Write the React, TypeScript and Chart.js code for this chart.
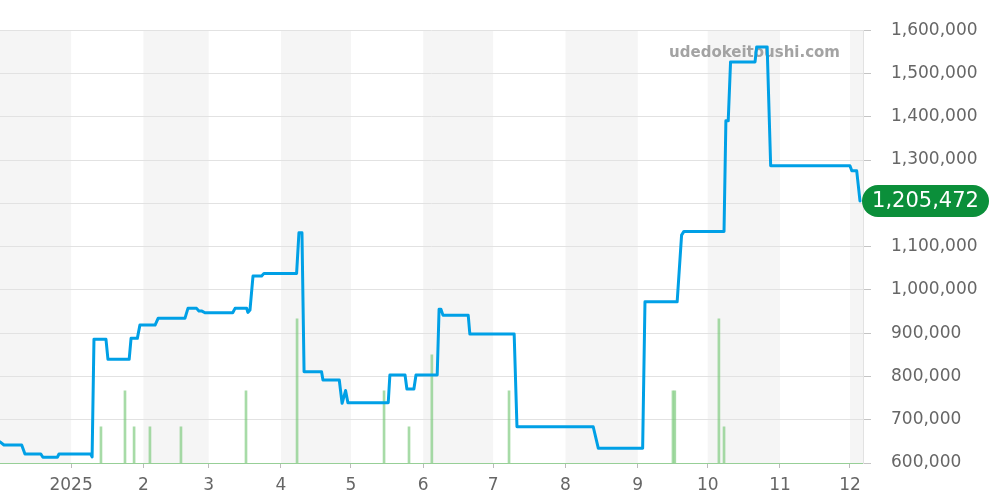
import React, { useEffect, useRef } from "react";
import { Chart, registerables } from "chart.js";

Chart.register(...registerables);

// Day offsets counted from 2025-01-01
const monthStarts = [-31, 0, 31, 59, 90, 120, 151, 181, 212, 243, 273, 304, 334];
const monthLabels = ["12", "2025", "2", "3", "4", "5", "6", "7", "8", "9", "10", "11", "12"];
const shadedMonthIndex = [0, 2, 4, 6, 8, 10, 12];

const xMin = -30.5;
const xMax = 339.6;

const priceDays = [
  -30.5, -28.8, -21.2, -19.8, -13.0, -12.1, -5.9, -5.2, 8.4, 9.0, 9.8, 14.95, 15.8, 24.9, 25.7, 28.4,
  29.5, 36.0, 37.3, 48.8, 50.1, 53.8, 54.8, 56.1, 57.4, 69.3, 70.3, 75.3, 75.8, 76.7, 78.0, 81.7,
  82.7, 96.7, 97.7, 99.0, 99.9, 107.4, 108.0, 115.0, 116.2, 117.7, 118.7, 136.0, 136.7, 143.2,
  144.0, 147.0, 147.9, 157.0, 157.8, 158.6, 159.5, 170.3, 171.0, 190.0, 191.2, 223.9, 226.1,
  245.1, 246.1, 259.9, 261.8, 262.8, 280.0, 280.8, 281.8, 282.8, 293.3, 294.0, 298.5, 300.0,
  334.0, 334.8, 336.9, 338.3,
];
const priceValues = [
  649000, 641600, 641600, 620800, 620800, 613200, 613200, 620800, 620800, 614000, 885700, 885700,
  839500, 839500, 888000, 888000, 918700, 918700, 934200, 934200, 957300, 957300, 951000, 951000,
  947100, 947100, 957300, 957300, 948000, 953400, 1031900, 1031900, 1038100, 1038100, 1131900,
  1131900, 810900, 810900, 791700, 791700, 737900, 767400, 739300, 739300, 803200, 803200,
  770900, 770900, 803200, 803200, 955000, 955000, 941100, 941100, 897900, 897900, 683800,
  683800, 634000, 634000, 972500, 972500, 1126600, 1135100, 1135100, 1390500, 1390500,
  1526800, 1526800, 1561400, 1561400, 1287000, 1287000, 1275000, 1275000, 1205472,
];

const volumeDays = [12.8, 23.1, 27.0, 33.8, 47.1, 75.0, 96.9, 134.2, 144.9, 154.7, 187.8, 258.1, 258.9, 277.8, 280.0];
const volumeValues = [1, 2, 1, 1, 1, 2, 4, 2, 1, 3, 2, 2, 2, 4, 1];

const yMin = 600000;
const yMax = 1600000;
const lastPriceLabel = "1,205,472";
const watermark = "udedokeitoushi.com";

const FONT = "'DejaVu Sans', sans-serif";

const bandsPlugin = {
  id: "bands",
  beforeDraw(chart: any) {
    const { ctx, chartArea, scales } = chart;
    const x = scales.x;
    ctx.save();
    ctx.fillStyle = "#f5f5f5";
    shadedMonthIndex.forEach((i) => {
      const start = monthStarts[i];
      const end = i + 1 < monthStarts.length ? monthStarts[i + 1] : xMax;
      const x0 = Math.max(chartArea.left, x.getPixelForValue(start));
      const x1 = Math.min(chartArea.right, x.getPixelForValue(end));
      if (x1 > x0) ctx.fillRect(x0, chartArea.top, x1 - x0, chartArea.bottom - chartArea.top);
    });
    ctx.restore();
  },
  beforeDatasetsDraw(chart: any) {
    const { ctx } = chart;
    ctx.save();
    ctx.font = `bold 15px ${FONT}`;
    ctx.fillStyle = "#a3a3a3";
    ctx.textAlign = "right";
    ctx.textBaseline = "middle";
    ctx.fillText(watermark, 840, 53);
    ctx.restore();
  },
  afterDraw(chart: any) {
    const { ctx, scales } = chart;
    const lastVal = priceValues[priceValues.length - 1];
    const yc = scales.y.getPixelForValue(lastVal);
    const left = 862;
    const w = 127;
    const h = 32;
    const r = 16;
    ctx.save();
    ctx.fillStyle = "#0b8f3a";
    ctx.beginPath();
    ctx.moveTo(left + r, yc - h / 2);
    ctx.lineTo(left + w - r, yc - h / 2);
    ctx.arc(left + w - r, yc, r, -Math.PI / 2, Math.PI / 2);
    ctx.lineTo(left + r, yc + h / 2);
    ctx.arc(left + r, yc, r, Math.PI / 2, (3 * Math.PI) / 2);
    ctx.closePath();
    ctx.fill();
    ctx.font = `21px ${FONT}`;
    ctx.fillStyle = "#ffffff";
    ctx.textAlign = "center";
    ctx.textBaseline = "middle";
    ctx.fillText(lastPriceLabel, left + w / 2, yc + 1);
    ctx.restore();
  },
};

export default function App() {
  const ref = useRef<HTMLCanvasElement | null>(null);

  useEffect(() => {
    if (!ref.current) return;
    Chart.defaults.font.family = FONT;
    const chart = new Chart(ref.current, {
      type: "bar",
      data: {
        datasets: [
          {
            type: "line",
            label: "price",
            data: priceDays.map((d, i) => ({ x: d, y: priceValues[i] })),
            borderColor: "#00a0e6",
            borderWidth: 3,
            pointRadius: 0,
            tension: 0,
            borderJoinStyle: "round",
            borderCapStyle: "round",
            yAxisID: "y",
            order: 0,
          } as any,
          {
            type: "bar",
            label: "volume",
            data: volumeDays.map((d, i) => ({ x: d, y: volumeValues[i] })),
            backgroundColor: "rgba(120,200,120,0.65)",
            barThickness: 2,
            grouped: false,
            yAxisID: "vol",
            order: 1,
          } as any,
        ],
      },
      options: {
        responsive: false,
        animation: false,
        layout: { padding: { top: 30, left: 0, right: 0, bottom: 0 } },
        plugins: { legend: { display: false }, tooltip: { enabled: false } },
        scales: {
          x: {
            type: "linear",
            min: xMin,
            max: xMax,
            offset: false,
            afterBuildTicks: (scale: any) => {
              scale.ticks = monthStarts.slice(1).map((v) => ({ value: v }));
            },
            afterFit: (scale: any) => {
              scale.height = 37;
              scale.paddingLeft = 0;
              scale.paddingRight = 0;
            },
            grid: { offset: false, drawOnChartArea: false, drawTicks: true, tickLength: 5, tickColor: "#bbbbbb" },
            border: { display: true, color: "rgba(120,200,120,0.7)", dash: [1, 1] },
            ticks: {
              autoSkip: false,
              maxRotation: 0,
              padding: 7,
              color: "#666666",
              font: { size: 17 },
              callback: (v: any) => {
                const idx = monthStarts.indexOf(Number(v));
                return idx >= 0 ? monthLabels[idx] : "";
              },
            },
          },
          y: {
            type: "linear",
            position: "right",
            min: yMin,
            max: yMax,
            afterFit: (scale: any) => {
              scale.width = 137;
            },
            grid: { color: "#e2e2e2", tickLength: 8, tickColor: "#c4c4c4" },
            border: { display: true, color: "#e2e2e2" },
            ticks: {
              stepSize: 100000,
              padding: 20,
              color: "#666666",
              font: { size: 17 },
              callback: (v: any) => Number(v).toLocaleString("en-US"),
            },
          },
          vol: {
            type: "linear",
            display: false,
            min: 0,
            max: 12,
          },
        },
      } as any,
      plugins: [bandsPlugin],
    });
    return () => chart.destroy();
  }, []);

  return (
    <div style={{ position: "absolute", left: 0, top: 0, width: 1000, height: 500 }}>
      <canvas ref={ref} width={1000} height={500} style={{ width: 1000, height: 500, display: "block" }} />
    </div>
  );
}
